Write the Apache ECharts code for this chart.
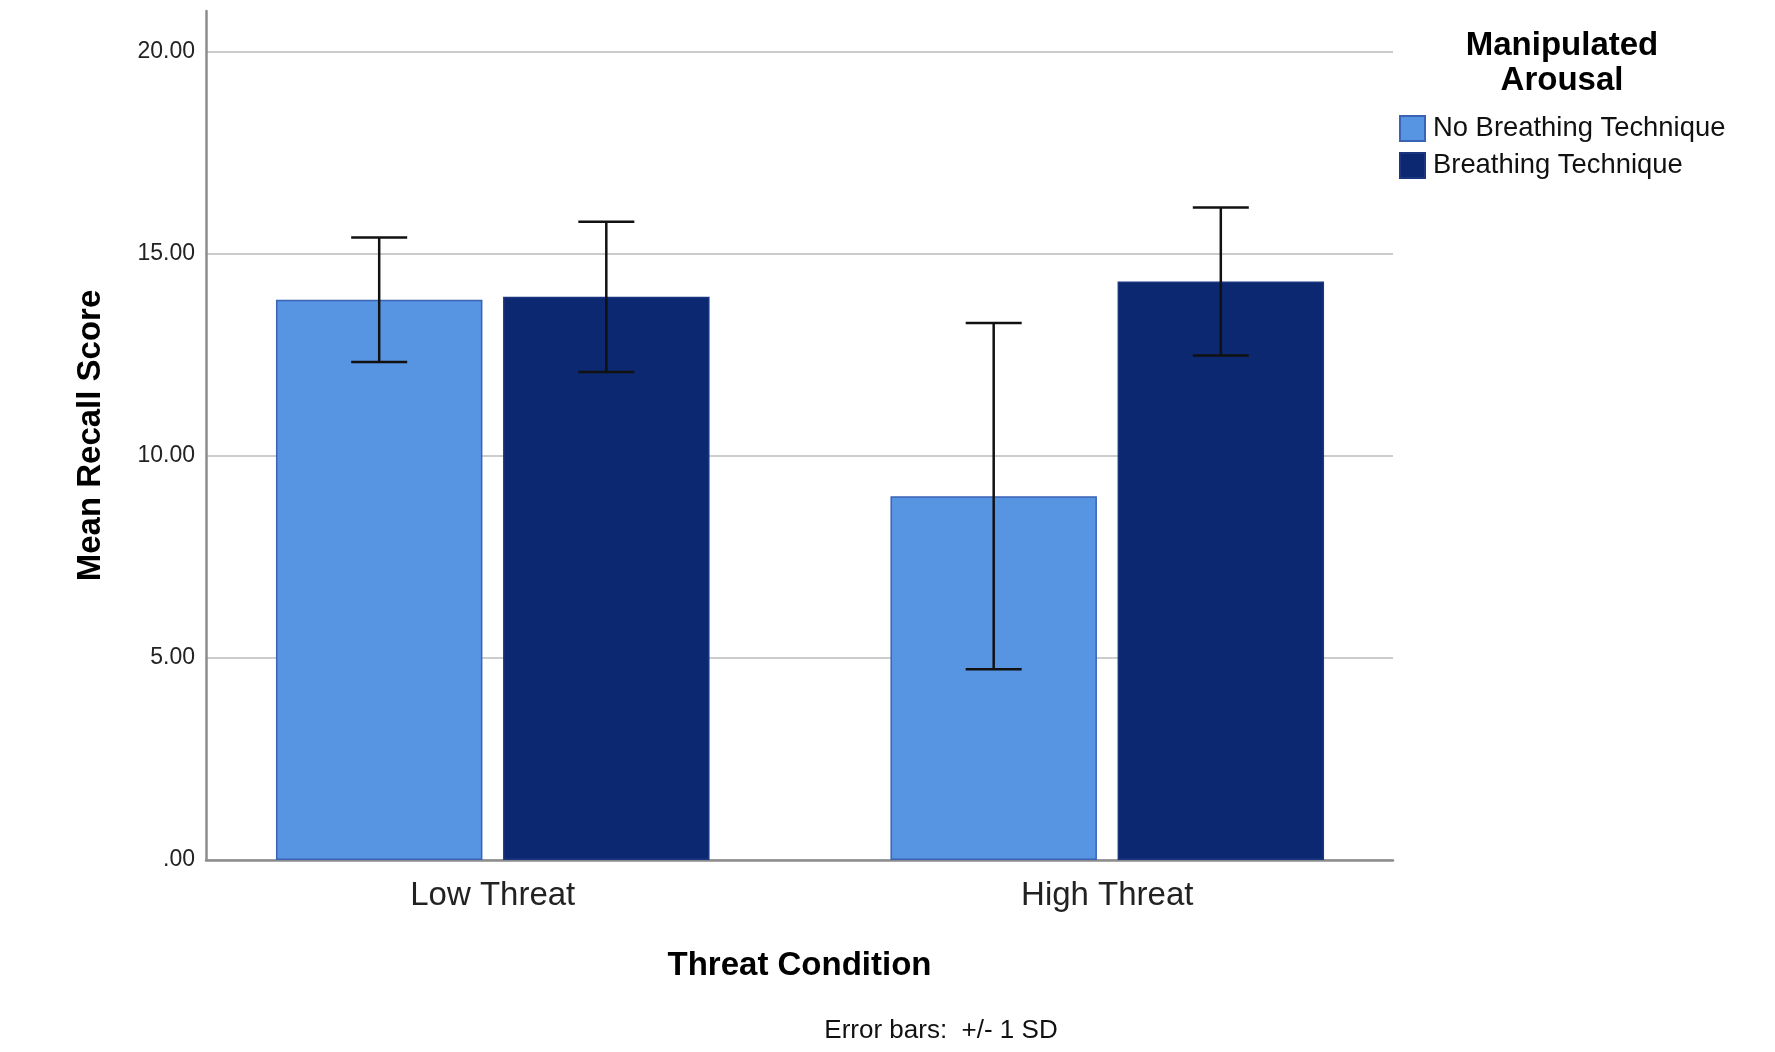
<!DOCTYPE html>
<html><head><meta charset="utf-8">
<script src="https://cdn.jsdelivr.net/npm/echarts@6/dist/echarts.min.js"></script>
<style>html,body{margin:0;padding:0;background:#fff}#c{width:1775px;height:1052px}</style>
</head><body><div id="c"></div><script>
// ---- data ----
const categories = ['Low Threat', 'High Threat'];
const seriesNames = ['No Breathing Technique', 'Breathing Technique'];
const noBreathMean = [13.86, 9.00];
const noBreathSD = [1.54, 4.28];
const breathMean = [13.93, 14.31];
const breathSD = [1.86, 1.83];
const yTicks = [0, 5, 10, 15, 20];
const yTickLabels = ['.00', '5.00', '10.00', '15.00', '20.00'];

// ---- style constants ----
const FONT = "'Liberation Sans', Arial, Helvetica, sans-serif";
const BAR_FRAC = 0.336;
const GAP_FRAC = 0.10;
const CAP = 56;
const colors = ['#5795e3', '#0b2871'];
const borders = ['#3a62b5', '#1a3680'];

const chart = echarts.init(document.getElementById('c'), null, {renderer: 'canvas'});

function errRender(sIdx) {
  return function (params, api) {
    const c = api.value(0);
    const lo = api.coord([c, api.value(1)]);
    const hi = api.coord([c, api.value(2)]);
    const band = api.size([1, 0])[0];
    const off = (sIdx === 0 ? -1 : 1) * band * BAR_FRAC * (1 + GAP_FRAC) / 2;
    const x = lo[0] + off;
    const st = {stroke: '#111', lineWidth: 2.5};
    return {
      type: 'group',
      children: [
        {type: 'line', shape: {x1: x, y1: lo[1], x2: x, y2: hi[1]}, style: st},
        {type: 'line', shape: {x1: x - CAP / 2, y1: hi[1], x2: x + CAP / 2, y2: hi[1]}, style: st},
        {type: 'line', shape: {x1: x - CAP / 2, y1: lo[1], x2: x + CAP / 2, y2: lo[1]}, style: st}
      ]
    };
  };
}

const means = [noBreathMean, breathMean];
const sds = [noBreathSD, breathSD];

const barSeries = seriesNames.map((n, s) => ({
  name: n, type: 'bar', xAxisIndex: 1, yAxisIndex: 1,
  data: means[s],
  barWidth: (BAR_FRAC * 100) + '%', barGap: (GAP_FRAC * 100) + '%',
  itemStyle: {color: colors[s], borderColor: borders[s], borderWidth: 1.5},
  z: 2
}));
const errSeries = seriesNames.map((n, s) => ({
  name: 'err' + s, type: 'custom', xAxisIndex: 1, yAxisIndex: 1,
  data: categories.map((c, i) => [i, means[s][i] - sds[s][i], means[s][i] + sds[s][i]]),
  renderItem: errRender(s), z: 5, silent: true
}));

const option = {
  animation: false,
  backgroundColor: '#fff',
  grid: [
    {left: 206, top: 11, width: 1187, bottom: 192},
    {left: 185.5, top: 11, width: 1229, bottom: 192}
  ],
  xAxis: [
    {type: 'value', gridIndex: 0, min: 0, max: 1,
     axisLine: {show: true, onZero: false, lineStyle: {color: '#8c8c8c', width: 2.5}},
     axisTick: {show: false}, axisLabel: {show: false}, splitLine: {show: false},
     name: 'Threat Condition', nameLocation: 'middle', nameGap: 89,
     nameTextStyle: {fontFamily: FONT, fontWeight: 'bold', fontSize: 33, color: '#000'}},
    {type: 'category', gridIndex: 1, data: categories,
     axisLine: {show: false}, axisTick: {show: false}, splitLine: {show: false},
     axisLabel: {fontFamily: FONT, fontSize: 33, color: '#222', margin: 19}}
  ],
  yAxis: [
    {type: 'value', gridIndex: 0, min: 0, max: 21, interval: 5,
     axisLine: {show: true, lineStyle: {color: '#8c8c8c', width: 2.5}},
     axisTick: {show: false},
     splitLine: {show: true, showMaxLine: false, lineStyle: {color: '#cccccc', width: 2}},
     axisLabel: {showMaxLabel: false, fontFamily: FONT, fontSize: 23, color: '#222', margin: 11,
       padding: [9, 0, 0, 0],
       formatter: v => { const i = yTicks.indexOf(v); return i >= 0 ? yTickLabels[i] : ''; }},
     name: 'Mean Recall Score', nameLocation: 'middle', nameGap: 99,
     nameTextStyle: {fontFamily: FONT, fontWeight: 'bold', fontSize: 33, color: '#000'}},
    {type: 'value', gridIndex: 1, min: 0, max: 21, show: false, splitLine: {show: false}}
  ],
  legend: {
    data: seriesNames, orient: 'vertical', left: 1399, top: 115, padding: 0,
    itemWidth: 25, itemHeight: 25, itemGap: 10, icon: 'rect',
    textStyle: {fontFamily: FONT, fontSize: 27.4, color: '#111', padding: [0, 0, 0, 3]}
  },
  graphic: [
    {type: 'text', x: 1562, y: 63, style: {text: 'Manipulated\nArousal', textAlign: 'center', textVerticalAlign: 'middle',
      fontFamily: FONT, fontWeight: 'bold', fontSize: 33, lineHeight: 35, fill: '#000'}},
    {type: 'text', x: 941, y: 1031, style: {text: 'Error bars:  +/- 1 SD', textAlign: 'center', textVerticalAlign: 'middle',
      fontFamily: FONT, fontSize: 26, fill: '#111'}}
  ],
  series: barSeries.concat(errSeries)
};
chart.setOption(option);
</script></body></html>
